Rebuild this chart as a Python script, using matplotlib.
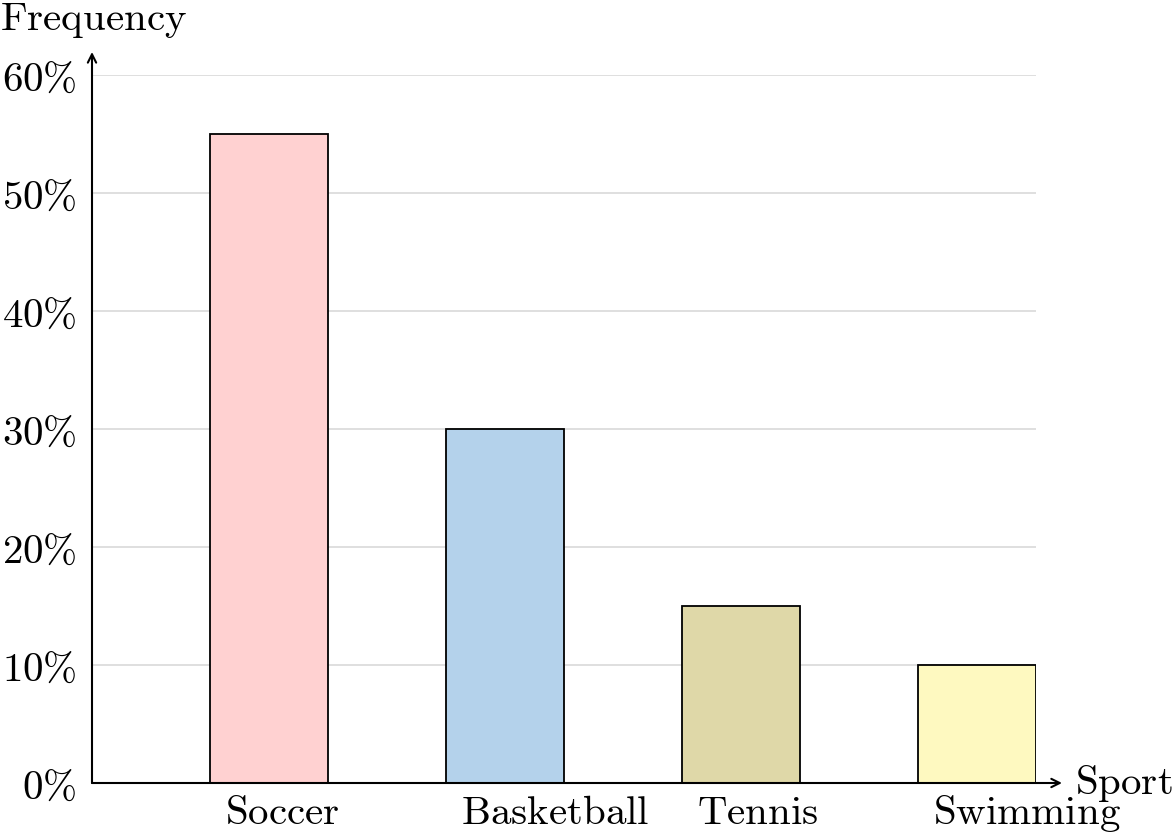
#!/usr/bin/env python3
"""Bar chart of sport frequency, pgfplots look."""

import matplotlib

matplotlib.use("Agg")

import matplotlib.pyplot as plt
from matplotlib.ticker import FuncFormatter
from matplotlib.transforms import ScaledTranslation

sports = ["Soccer", "Basketball", "Tennis", "Swimming"]
frequency = [55, 30, 15, 10]
bar_colors = ["#FFD1D1", "#B4D2EB", "#DFD8A8", "#FEF9C0"]
y_ticks = [0, 10, 20, 30, 40, 50, 60]

plt.rcParams["mathtext.fontset"] = "cm"
FS = 29.5


def tex(s: str) -> str:
    return r"$\mathrm{" + s.replace(" ", r"\ ").replace("%", r"\%") + "}$"


fig = plt.figure(figsize=(11.73, 8.36), dpi=100)
W, H = 1173, 836
left, right, bottom, top = 92, 1036, 783, 75
ax = fig.add_axes([left / W, (H - bottom) / H, (right - left) / W, (bottom - top) / H])

positions = list(range(len(sports)))
ax.bar(positions, frequency, width=0.5, color=bar_colors, edgecolor="black", linewidth=1.3, zorder=3)

ax.set_xlim(-0.75, 3.25)
ax.set_ylim(0, 60)

for s in ax.spines.values():
    s.set_visible(False)

ax.set_yticks(y_ticks)
ax.yaxis.set_major_formatter(FuncFormatter(lambda v, _: tex(f"{int(v)}%")))
ax.yaxis.grid(True, color="#dcdcdc", linewidth=1.3, zorder=0)
ax.set_axisbelow(True)
ax.tick_params(axis="y", length=0, pad=11, labelsize=FS)

ax.set_xticks(positions)
ax.set_xticklabels([tex(s) for s in sports])
ax.tick_params(axis="x", length=0, pad=7, labelsize=FS)
shift = ScaledTranslation(-44 / 100, 0, fig.dpi_scale_trans)
for lbl in ax.get_xticklabels():
    lbl.set_horizontalalignment("left")
    lbl.set_transform(lbl.get_transform() + shift)

arrow = dict(arrowstyle="->,head_length=0.6,head_width=0.3", color="black", lw=1.5, shrinkA=0, shrinkB=0)
ax.annotate("", xy=(0, 1.0325), xytext=(0, 0), xycoords="axes fraction", arrowprops=arrow, annotation_clip=False)
ax.annotate("", xy=(1.0275, 0), xytext=(0, 0), xycoords="axes fraction", arrowprops=arrow, annotation_clip=False)

ax.text(1.041, 0, tex("Sport"), transform=ax.transAxes, fontsize=FS, ha="left", va="center")
fig.text(0.0, (H - 20.5) / H, tex("Frequency"), fontsize=FS, ha="left", va="center")

fig.savefig("out.png", dpi=100)
